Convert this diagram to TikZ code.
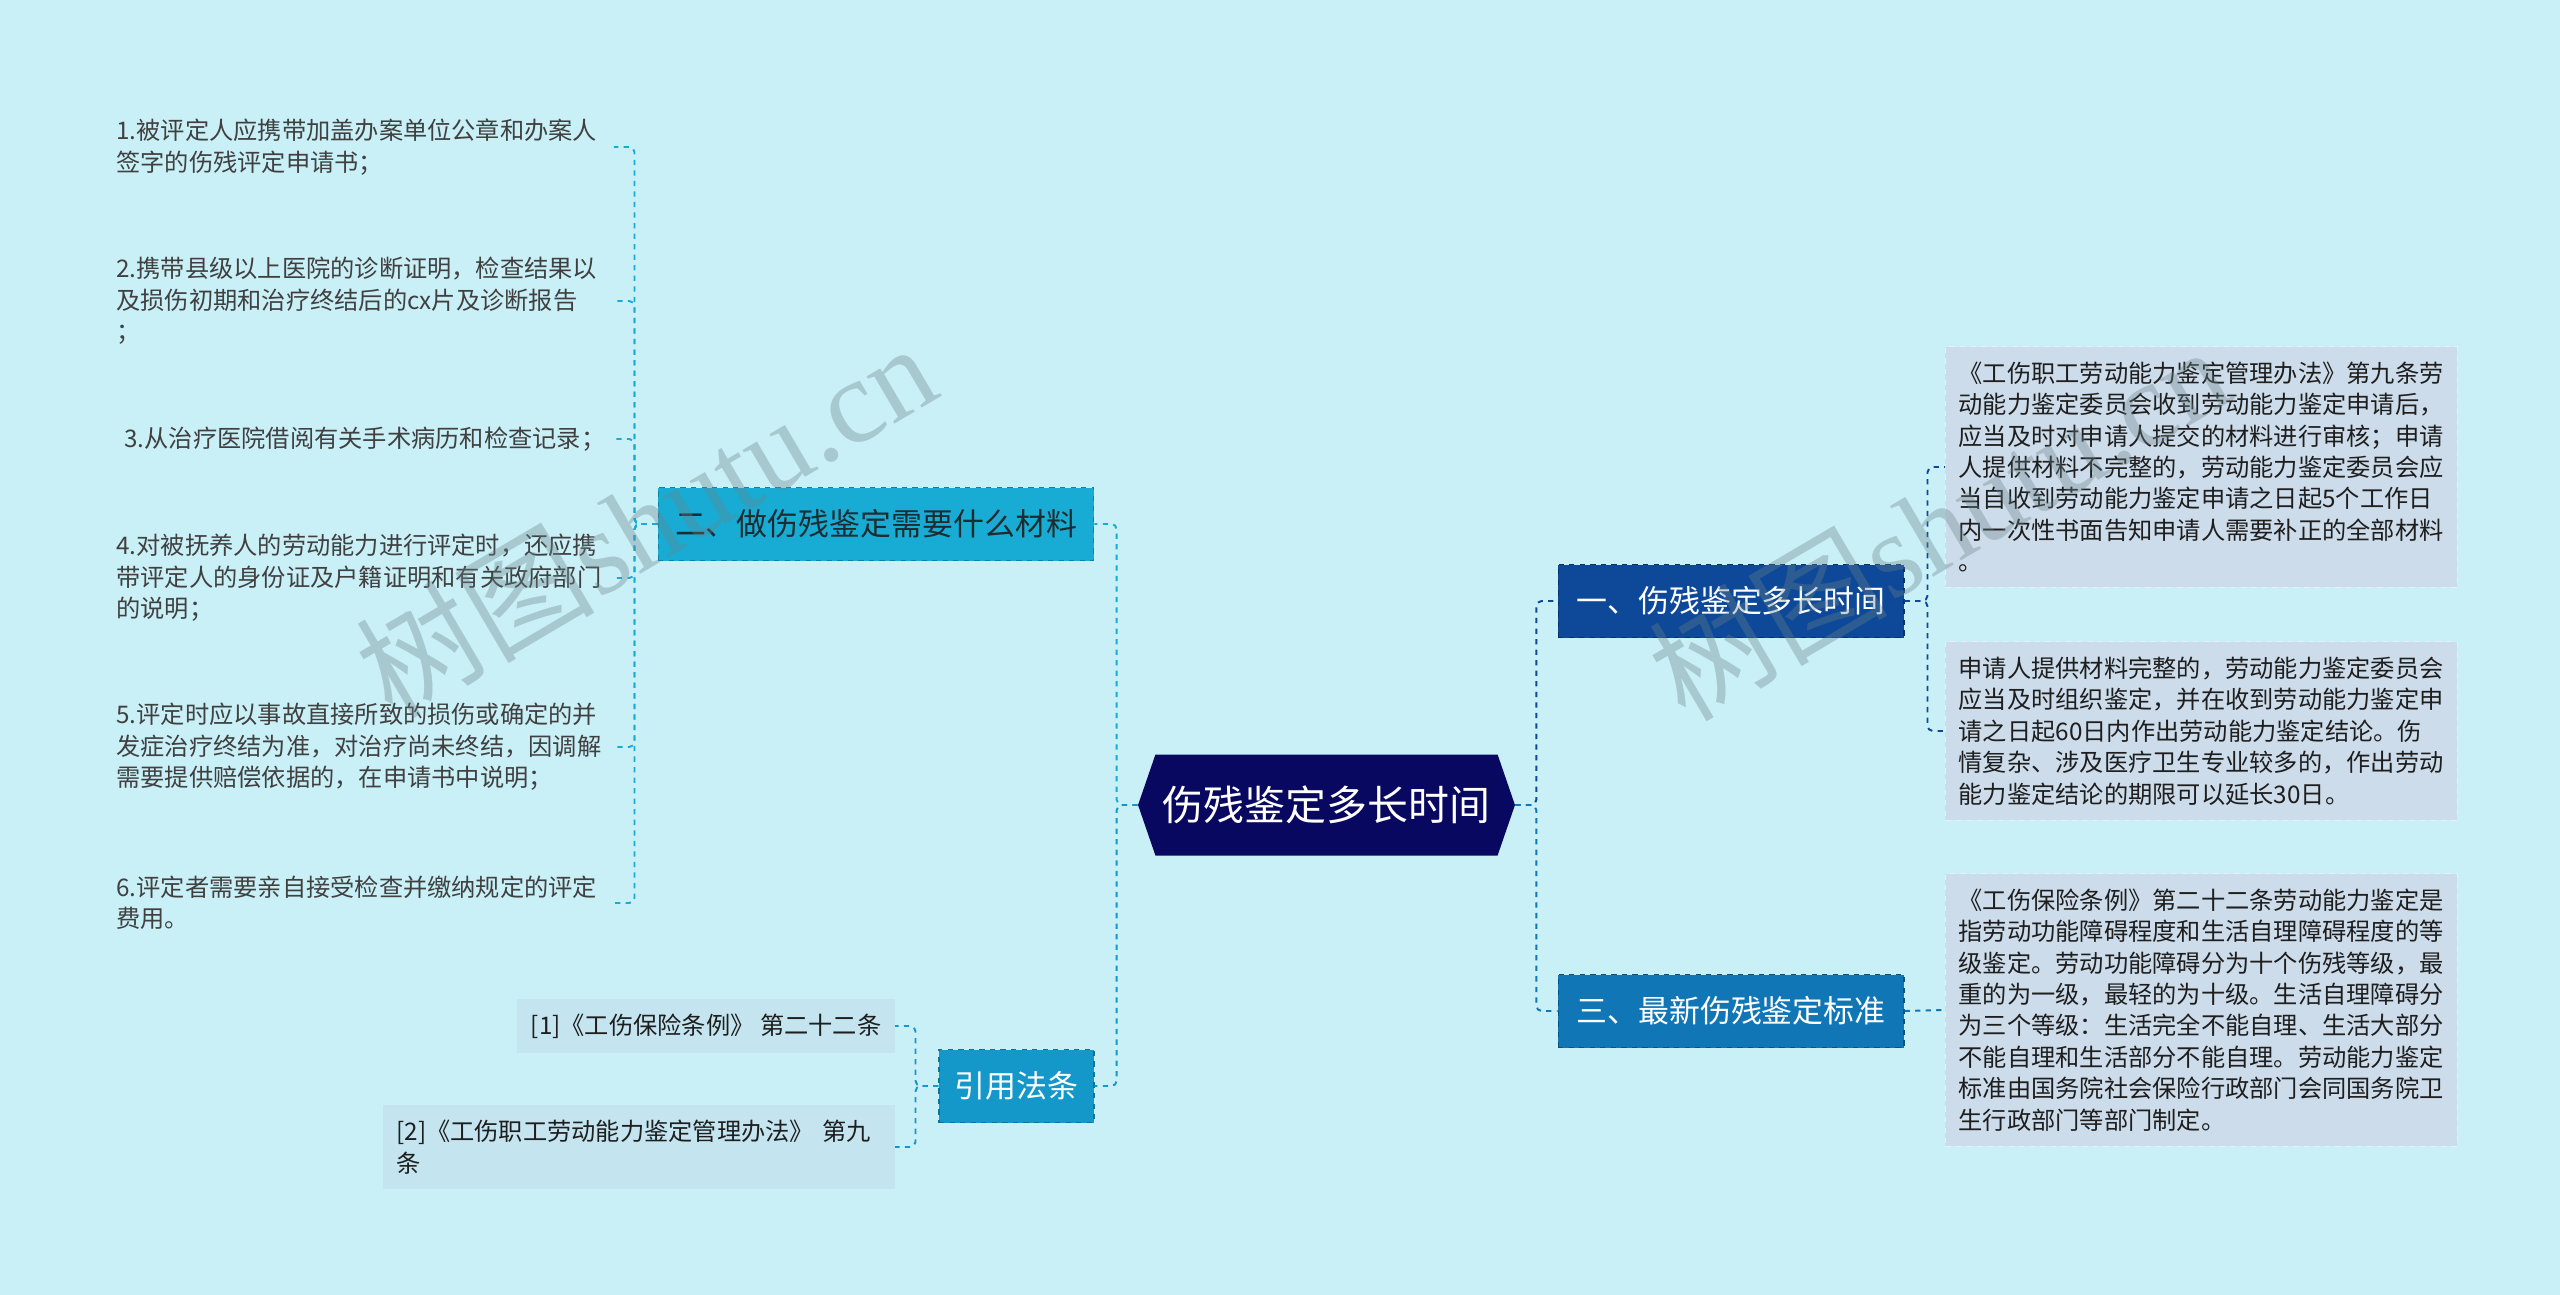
\documentclass[tikz,border=0pt]{standalone}
\usepackage{fontspec}
\setmainfont{Noto Sans CJK SC}
\newfontfamily\wmserif{Liberation Serif}
\usetikzlibrary{positioning,shapes.symbols}

\definecolor{bgcyan}{RGB}{201,239,247}
\definecolor{rootnavy}{RGB}{8,8,96}
\definecolor{firstblue}{RGB}{14,72,152}
\definecolor{thirdblue}{RGB}{16,118,182}
\definecolor{secondteal}{RGB}{24,172,212}
\definecolor{lawblue}{RGB}{20,152,202}
\definecolor{leafgray}{RGB}{205,220,234}
\definecolor{reffill}{RGB}{196,229,240}
\definecolor{darktext}{RGB}{30,30,30}
\definecolor{markgray}{RGB}{105,130,135}

\newcommand{\rootfont}{\fontsize{23.3}{28}\selectfont}
\newcommand{\branchfont}{\fontsize{17.6}{21}\selectfont}
\newcommand{\leaffont}{\fontsize{13.8}{17.9}\selectfont}

\begin{document}
\begin{tikzpicture}[
    x=0.02cm,
    y=-0.02cm,
    line join=round,
    root/.style={
        shape=signal,
        signal to=west and east,
        signal pointer angle=142,
        fill=rootnavy,
        text=white,
        font=\rootfont,
        minimum width=7.54cm,
        minimum height=2.02cm
    },
    branch/.style={
        draw,
        dashed,
        line width=0.6pt,
        font=\branchfont,
        minimum height=1.46cm
    },
    leaf/.style={
        fill=leafgray,
        draw=white!55!leafgray,
        dashed,
        font=\leaffont,
        text=darktext,
        align=left,
        text width=276pt,
        inner xsep=7.6pt,
        inner ysep=8.5pt
    },
    item/.style={
        font=\leaffont,
        text=darktext!85!white,
        align=left,
        text width=283pt,
        inner xsep=0pt,
        anchor=west
    },
    tie/.style={
        dashed,
        line width=1.1pt,
        rounded corners=3pt
    },
    watermark/.style={
        text=markgray,
        opacity=0.35,
        font=\fontsize{68}{74}\selectfont,
        rotate=30.5
    }
]

% background
\fill[bgcyan] (0,0) rectangle (2560,1295);
\useasboundingbox (0,0) rectangle (2560,1295);

% root
\node[root] (root) at (1326.5,805)
    {伤残鉴定多长时间};

% branches
\node[branch, fill=firstblue, draw=firstblue!70!black, text=white,
    minimum width=6.92cm] (dur) at (1731,601)
    {一、伤残鉴定多长时间};
\node[branch, fill=thirdblue, draw=thirdblue!70!black, text=white,
    minimum width=6.92cm] (std) at (1731,1011)
    {三、最新伤残鉴定标准};
\node[branch, fill=secondteal, draw=secondteal!75!black,
    text=darktext!90!secondteal, minimum width=8.72cm] (mat) at (876,524)
    {二、做伤残鉴定需要什么材料};
\node[branch, fill=lawblue, draw=lawblue!75!black, text=white,
    minimum width=3.1cm] (law) at (1016.5,1086)
    {引用法条};

% leaves of dur
\node[leaf, anchor=west] (durA) at (1945,467)
    {《工伤职工劳动能力鉴定管理办法》第九条劳\\
     动能力鉴定委员会收到劳动能力鉴定申请后，\\
     应当及时对申请人提交的材料进行审核；申请\\
     人提供材料不完整的，劳动能力鉴定委员会应\\
     当自收到劳动能力鉴定申请之日起5个工作日\\
     内一次性书面告知申请人需要补正的全部材料\\
     。};
\node[leaf, anchor=west] (durB) at (1945,731)
    {申请人提供材料完整的，劳动能力鉴定委员会\\
     应当及时组织鉴定，并在收到劳动能力鉴定申\\
     请之日起60日内作出劳动能力鉴定结论。伤\\
     情复杂、涉及医疗卫生专业较多的，作出劳动\\
     能力鉴定结论的期限可以延长30日。};

% leaf of std
\node[leaf, anchor=west] (stdA) at (1945,1010)
    {《工伤保险条例》第二十二条劳动能力鉴定是\\
     指劳动功能障碍程度和生活自理障碍程度的等\\
     级鉴定。劳动功能障碍分为十个伤残等级，最\\
     重的为一级，最轻的为十级。生活自理障碍分\\
     为三个等级：生活完全不能自理、生活大部分\\
     不能自理和生活部分不能自理。劳动能力鉴定\\
     标准由国务院社会保险行政部门会同国务院卫\\
     生行政部门等部门制定。};

% items of mat
\node[item] (item1) at (116,147)
    {1.被评定人应携带加盖办案单位公章和办案人\\
     签字的伤残评定申请书；};
\node[item] (item2) at (116,301)
    {2.携带县级以上医院的诊断证明，检查结果以\\
     及损伤初期和治疗终结后的cx片及诊断报告\\
     ；};
\node[item] (item3) at (116,439)
    {\ 3.从治疗医院借阅有关手术病历和检查记录；};
\node[item] (item4) at (116,578)
    {4.对被抚养人的劳动能力进行评定时，还应携\\
     带评定人的身份证及户籍证明和有关政府部门\\
     的说明；};
\node[item] (item5) at (116,747)
    {5.评定时应以事故直接所致的损伤或确定的并\\
     发症治疗终结为准，对治疗尚未终结，因调解\\
     需要提供赔偿依据的，在申请书中说明；};
\node[item] (item6) at (116,903)
    {6.评定者需要亲自接受检查并缴纳规定的评定\\
     费用。};

% refs of law
\node[leaf, fill=reffill, draw=none, text width=, align=right,
    anchor=east] (ref1) at (895,1026)
    {[1]《工伤保险条例》 第二十二条};
\node[leaf, fill=reffill, draw=none, anchor=east] (ref2) at (895,1147)
    {[2]《工伤职工劳动能力鉴定管理办法》 第九\\
     条};

% connectors
\draw[tie, draw=secondteal] (root.west) -- ++(-21,0) |- (mat.east);
\draw[tie, draw=lawblue] (root.west) -- ++(-21,0) |- (law.east);
\draw[tie, draw=firstblue] (root.east) -- ++(21,0) |- (dur.west);
\draw[tie, draw=thirdblue] (root.east) -- ++(21,0) |- (std.west);

\foreach \i in {1,...,6}
    \draw[tie, draw=secondteal] (mat.west) -- ++(-23,0) |- (item\i.east);
\foreach \i in {1,2}
    \draw[tie, draw=lawblue] (law.west) -- ++(-23,0) |- (ref\i.east);

\draw[tie, draw=firstblue] (dur.east) -- ++(23,0) |- (durA.west);
\draw[tie, draw=firstblue] (dur.east) -- ++(23,0) |- (durB.west);
\draw[tie, draw=thirdblue] (std.east) -- (stdA.west);

% watermarks
\node[watermark] (mark1) at (645,519)
    {树图{\wmserif shutu.cn}};
\node[watermark] (mark2) at (1938,522)
    {树图{\wmserif shutu.cn}};

\end{tikzpicture}
\end{document}
